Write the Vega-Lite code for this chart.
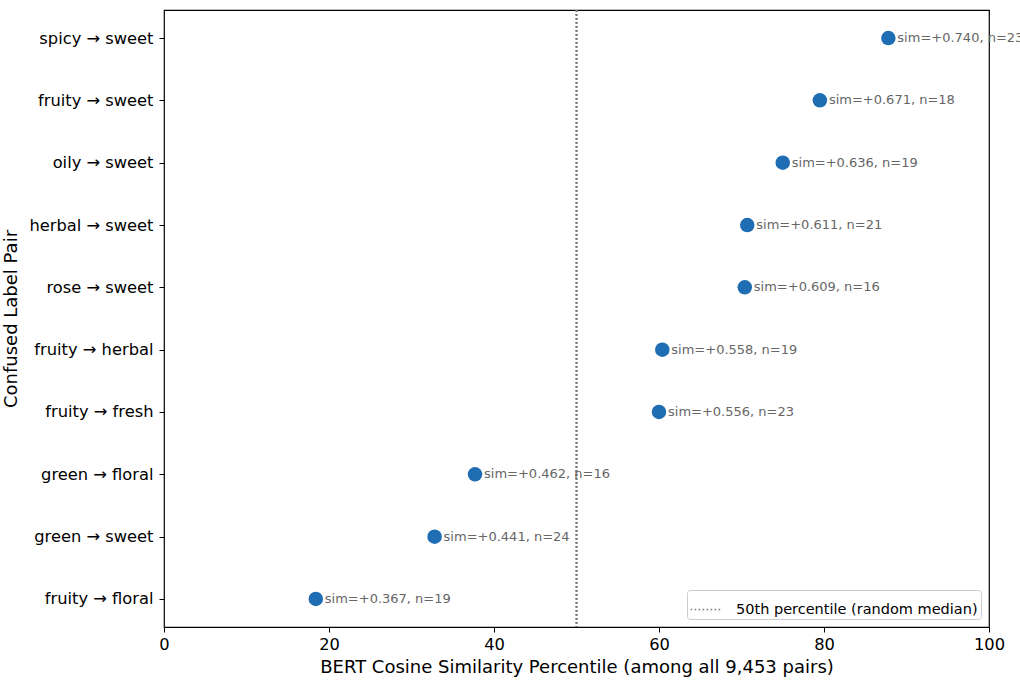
{
  "$schema": "https://vega.github.io/schema/vega-lite/v6.json",
  "width": 825,
  "height": 617,
  "autosize": {"type": "none"},
  "padding": {"left": 164, "top": 10, "right": 31, "bottom": 57},
  "background": "white",
  "config": {
    "font": "DejaVu Sans",
    "view": {"stroke": "black", "strokeWidth": 1.2},
    "axis": {
      "grid": false,
      "domain": false,
      "tickColor": "black",
      "tickSize": 5,
      "tickWidth": 1,
      "labelColor": "black",
      "titleColor": "black",
      "labelFontSize": 16.3,
      "titleFontSize": 18,
      "titleFontWeight": "normal",
      "labelPadding": 6,
      "labelFlush": false
    }
  },
  "data": {
    "values": [
      {"pair": "spicy → sweet", "pct": 87.8, "label": "sim=+0.740, n=23"},
      {"pair": "fruity → sweet", "pct": 79.5, "label": "sim=+0.671, n=18"},
      {"pair": "oily → sweet", "pct": 75.0, "label": "sim=+0.636, n=19"},
      {"pair": "herbal → sweet", "pct": 70.7, "label": "sim=+0.611, n=21"},
      {"pair": "rose → sweet", "pct": 70.4, "label": "sim=+0.609, n=16"},
      {"pair": "fruity → herbal", "pct": 60.4, "label": "sim=+0.558, n=19"},
      {"pair": "fruity → fresh", "pct": 60.0, "label": "sim=+0.556, n=23"},
      {"pair": "green → floral", "pct": 37.7, "label": "sim=+0.462, n=16"},
      {"pair": "green → sweet", "pct": 32.8, "label": "sim=+0.441, n=24"},
      {"pair": "fruity → floral", "pct": 18.4, "label": "sim=+0.367, n=19"}
    ]
  },
  "encoding": {
    "y": {
      "field": "pair",
      "type": "nominal",
      "sort": null,
      "scale": {"type": "point", "padding": 0.45},
      "axis": {"title": "Confused Label Pair", "titlePadding": 8}
    }
  },
  "layer": [
    {
      "mark": {"type": "rule", "color": "#777777", "strokeWidth": 1.3},
      "encoding": {
        "y": null,
        "x": {"datum": 50, "type": "quantitative"},
        "strokeDash": {
          "datum": "50th percentile (random median)",
          "scale": {"range": [[1.5, 2.5]]},
          "legend": {
            "title": null,
            "orient": "bottom-right",
            "offset": 8,
            "symbolType": "stroke",
            "symbolStrokeColor": "#777777",
            "symbolStrokeWidth": 1.3,
            "symbolSize": 1000,
            "labelFontSize": 14.5,
            "labelColor": "black",
            "labelLimit": 0,
            "labelOffset": 13,
            "strokeColor": "#cccccc",
            "fillColor": "white",
            "cornerRadius": 3,
            "padding": 3
          }
        }
      }
    },
    {
      "mark": {"type": "circle", "size": 210, "color": "#1f6eb4", "opacity": 1},
      "encoding": {
        "x": {
          "field": "pct",
          "type": "quantitative",
          "scale": {"domain": [0, 100], "nice": false},
          "axis": {
            "title": "BERT Cosine Similarity Percentile (among all 9,453 pairs)",
            "values": [0, 20, 40, 60, 80, 100],
            "labelPadding": 4,
            "titlePadding": 6
          }
        }
      }
    },
    {
      "mark": {"type": "text", "align": "left", "baseline": "middle", "dx": 9, "fontSize": 13, "color": "#666666"},
      "encoding": {
        "x": {"field": "pct", "type": "quantitative"},
        "text": {"field": "label"}
      }
    }
  ]
}
